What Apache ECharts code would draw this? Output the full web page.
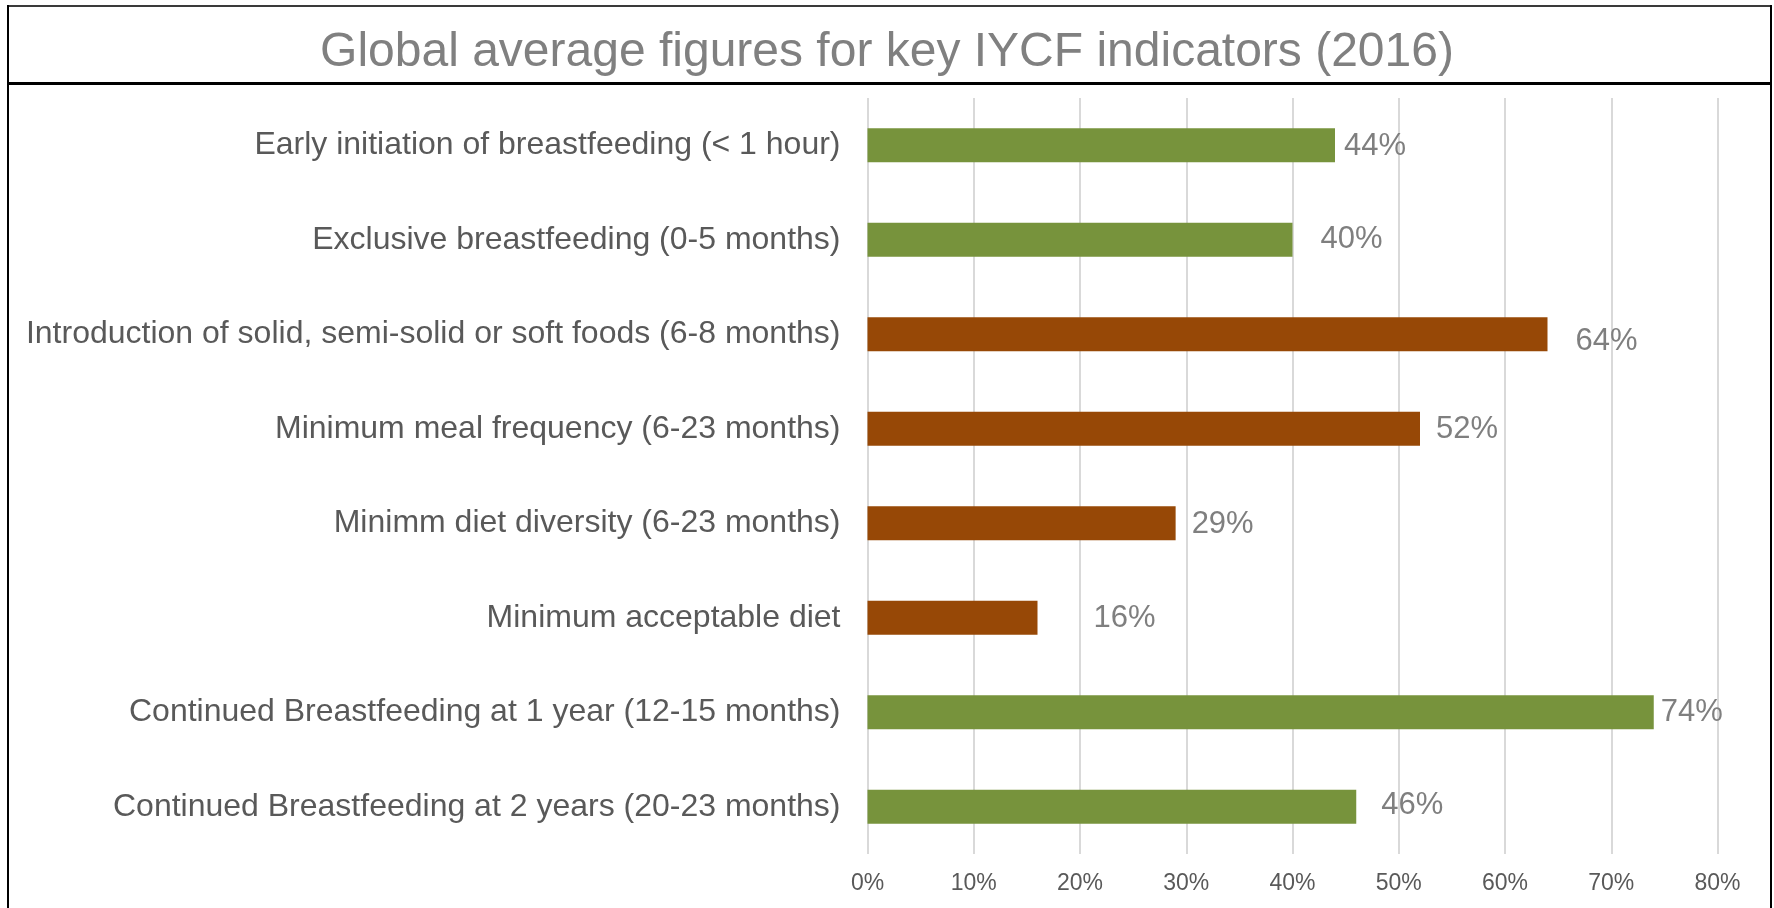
<!DOCTYPE html>
<html>
<head>
<meta charset="utf-8">
<title>Global average figures for key IYCF indicators (2016)</title>
<script src="https://cdn.jsdelivr.net/npm/echarts@6/dist/echarts.min.js"></script>
<style>
  html, body { margin: 0; padding: 0; background: #ffffff; }
  #chart { width: 1774px; height: 908px; }
</style>
</head>
<body>
<div id="chart"></div>
<script>
// ---- data ----
const titleText = 'Global average figures for key IYCF indicators (2016)';
const categories = [
  'Early initiation of breastfeeding (< 1 hour)',
  'Exclusive breastfeeding (0-5 months)',
  'Introduction of solid, semi-solid or soft foods (6-8 months)',
  'Minimum meal frequency (6-23 months)',
  'Minimm diet diversity (6-23 months)',
  'Minimum acceptable diet',
  'Continued Breastfeeding at 1 year (12-15 months)',
  'Continued Breastfeeding at 2 years (20-23 months)'
];
const values = [44, 40, 64, 52, 29, 16, 74, 46];
const groups = ['breastfeeding', 'breastfeeding', 'complementary', 'complementary',
                'complementary', 'complementary', 'breastfeeding', 'breastfeeding'];
const xTickValues = [0, 10, 20, 30, 40, 50, 60, 70, 80];

// ---- styling ----
const groupColors = { breastfeeding: '#77933c', complementary: '#974806' };
const labelGaps = [9, 28, 28, 16, 16, 56, 7, 25];
const labelShiftY = [1, 0, 7, 1, 1, 1, 0, -1];
const FONT = "'Liberation Sans', Arial, Helvetica, sans-serif";

const chart = echarts.init(document.getElementById('chart'), null, { renderer: 'canvas' });

const seriesData = values.map((v, i) => ({
  value: v,
  itemStyle: { color: groupColors[groups[i]] },
  label: { distance: labelGaps[i], offset: [0, labelShiftY[i]] }
}));

const option = {
  backgroundColor: '#ffffff',
  animation: false,
  textStyle: { fontFamily: FONT },
  title: {
    text: titleText,
    left: 'center',
    top: 23,
    textStyle: { fontFamily: FONT, fontSize: 48, fontWeight: 'normal', color: '#808080', lineHeight: 50 }
  },
  grid: { left: 867.5, top: 98, width: 850, height: 756, containLabel: false },
  xAxis: {
    type: 'value',
    min: xTickValues[0],
    max: xTickValues[xTickValues.length - 1],
    interval: xTickValues[1] - xTickValues[0],
    axisLine: { show: false },
    axisTick: { show: false },
    axisLabel: {
      formatter: '{value}%', fontFamily: FONT, fontSize: 23, color: '#595959', margin: 18
    },
    splitLine: { show: true, lineStyle: { color: '#d9d9d9', width: 2 } }
  },
  yAxis: {
    type: 'category',
    data: categories,
    inverse: true,
    axisLine: { show: false },
    axisTick: { show: false },
    axisLabel: { fontFamily: FONT, fontSize: 32, color: '#595959', margin: 27 },
    splitLine: { show: false }
  },
  series: [{
    type: 'bar',
    data: seriesData,
    barWidth: 34,
    label: {
      show: true,
      position: 'right',
      formatter: '{c}%',
      fontFamily: FONT,
      fontSize: 31,
      color: '#7f7f7f'
    }
  }],
  graphic: [
    { type: 'line', shape: { x1: 7, y1: 6, x2: 1772, y2: 6 }, style: { stroke: '#3a3a3a', lineWidth: 2 } },
    { type: 'line', shape: { x1: 8, y1: 5, x2: 8, y2: 908 }, style: { stroke: '#000000', lineWidth: 2 } },
    { type: 'line', shape: { x1: 1771, y1: 5, x2: 1771, y2: 908 }, style: { stroke: '#000000', lineWidth: 2 } },
    { type: 'line', shape: { x1: 8, y1: 83.5, x2: 1771, y2: 83.5 }, style: { stroke: '#000000', lineWidth: 3 } }
  ]
};

chart.setOption(option);
</script>
</body>
</html>
